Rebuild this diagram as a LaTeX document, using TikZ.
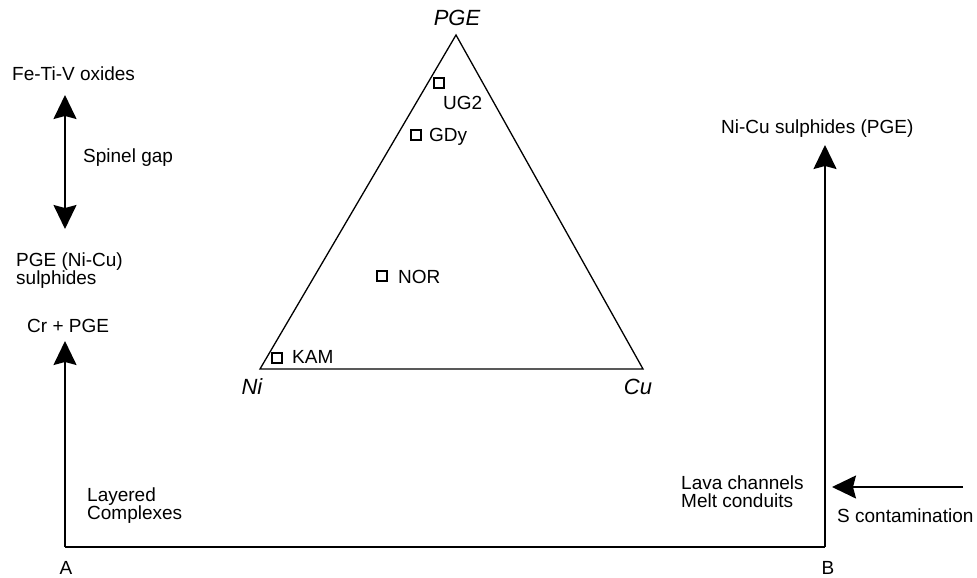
\documentclass[tikz,border=0pt]{standalone}
\usepackage{fontspec}
\setmainfont{Liberation Sans}
\usetikzlibrary{arrows.meta}
\begin{document}
\begin{tikzpicture}[x=1pt,y=-1pt,
  lbl/.style={inner sep=0pt,font=\fontsize{19}{18}\selectfont},
  llbl/.style={lbl,anchor=west,align=left},
  vtx/.style={inner sep=0pt,font=\fontsize{22}{22}\selectfont\itshape},
  mk/.style={draw,line width=1.3pt,minimum size=10pt,inner sep=0pt},
  tri/.style={line width=1.3pt},
  frame/.style={line width=1.8pt},
  arr/.style={line width=1.6pt,-{Stealth[width=23pt,length=24pt,inset=3pt]}},
  darr/.style={line width=1.6pt,{Stealth[width=23pt,length=24pt,inset=3pt]}-{Stealth[width=23pt,length=24pt,inset=3pt]}}]
\useasboundingbox (0,0) rectangle (977,578);
% triangle
\coordinate (top) at (456,35);
\coordinate (ni) at (260,369);
\coordinate (cu) at (643,369);
\draw[tri] (top) -- (cu) -- (ni) -- cycle;
\node[vtx] (lpge) at (457,18) {PGE};
\node[vtx] (lni) at (252,387) {Ni};
\node[vtx] (lcu) at (638,387) {Cu};
% markers
\node[mk] (ug2) at (439,83) {};
\node[llbl] (tug2) at (443,103) {UG2};
\node[mk] (gdy) at (416,135) {};
\node[llbl] (tgdy) at (429,137) {GDy};
\node[mk] (nor) at (382,276) {};
\node[llbl] (tnor) at (398,277) {NOR};
\node[mk] (kam) at (277,358) {};
\node[llbl] (tkam) at (292,357) {KAM};
% left column
\node[llbl] (fe) at (12,74) {Fe-Ti-V oxides};
\coordinate (dtop) at (65,95);
\coordinate (dbot) at (65,229);
\draw[darr] (dbot) -- (dtop);
\node[llbl] (sg) at (83,158) {Spinel gap};
\node[llbl] (pge) at (16,271) {PGE (Ni-Cu)\\sulphides};
\node[llbl] (cr) at (27,326) {Cr + PGE};
% frame
\coordinate (A) at (65,547);
\coordinate (B) at (825,547);
\coordinate (crtip) at (65,341);
\coordinate (nctip) at (825,145);
\draw[frame] (A) -- (B);
\draw[arr] (A) -- (crtip);
\draw[arr] (B) -- (nctip);
\node[lbl] (la) at (66,568) {A};
\node[lbl] (lb) at (828,568) {B};
\node[llbl] (lay) at (87,506) {Layered\\Complexes};
\node[llbl] (lava) at (681,492) {Lava channels\\Melt conduits};
\node[llbl] (nicu) at (721,129) {Ni-Cu sulphides (PGE)};
% S contamination
\coordinate (sstart) at (963,487);
\coordinate (stip) at (832,487);
\draw[arr] (sstart) -- (stip);
\node[llbl] (scont) at (837,516) {S contamination};
\end{tikzpicture}
\end{document}
